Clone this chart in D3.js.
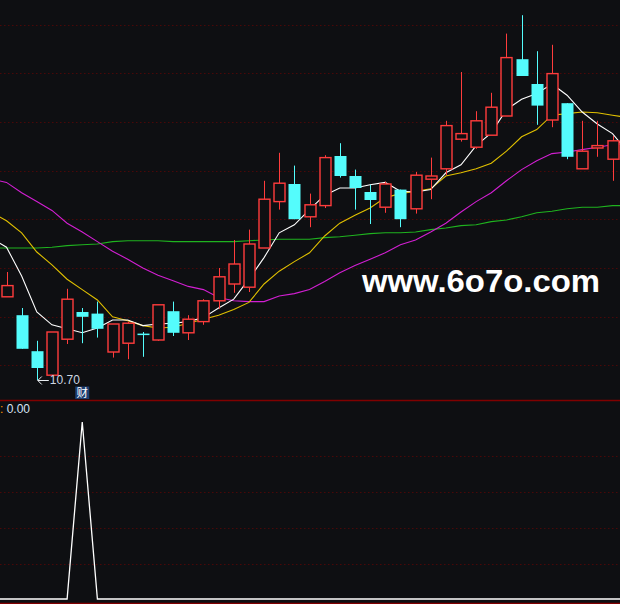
<!DOCTYPE html>
<html><head><meta charset="utf-8">
<script src="https://cdn.jsdelivr.net/npm/d3@7/dist/d3.min.js"></script>
<style>html,body{margin:0;padding:0;background:#0e0f12;overflow:hidden}</style>
</head><body><svg id="c" width="620" height="604"></svg>
<script>
// ---- data (41 visible daily sessions) ----
const openP  = [11.74,11.51,11.06,10.76,11.21,11.55,11.53,11.05,11.16,11.28,11.20,11.56,11.29,11.43,11.69,11.90,11.86,12.35,12.93,13.15,12.74,12.88,13.50,13.25,13.05,12.86,13.08,12.84,13.21,13.34,13.71,13.61,13.76,14.00,14.71,14.40,13.95,14.16,13.34,13.60,13.46];
const highP  = [12.05,11.60,11.19,11.30,11.84,11.60,11.68,11.40,11.43,11.30,11.64,11.68,11.51,11.71,12.10,12.45,12.58,13.19,13.54,13.38,13.03,13.51,13.66,13.33,13.14,13.18,13.08,13.30,13.48,13.94,14.55,14.06,14.29,15.03,15.26,14.81,14.89,14.16,13.94,13.94,13.75];
const lowP   = [11.74,11.09,10.70,10.76,11.15,11.16,11.23,10.98,10.96,10.99,11.19,11.25,11.20,11.39,11.59,11.79,11.80,12.35,12.83,12.71,12.61,12.85,13.23,12.83,12.65,12.79,12.61,12.78,12.96,13.26,13.68,13.59,13.76,14.00,14.50,13.89,13.86,13.46,13.34,13.49,13.19];
const closeP = [11.88,11.09,10.85,11.30,11.71,11.49,11.34,11.40,11.41,11.28,11.64,11.29,11.46,11.69,11.99,12.15,12.40,12.96,13.16,12.71,12.89,13.48,13.25,13.10,12.95,13.15,12.71,13.26,13.25,13.88,13.78,13.94,14.11,14.73,14.50,14.13,14.53,13.49,13.56,13.63,13.69];
// moving averages / indicator: one value before the first visible session, 41 visible, one after (lines run to the pane edges)
const ma5  = [12.47,12.36,12.00,11.55,11.39,11.34,11.29,11.35,11.45,11.45,11.38,11.40,11.41,11.43,11.48,11.60,11.71,11.96,12.23,12.54,12.64,12.83,13.01,13.10,13.10,13.14,13.17,13.06,13.05,13.08,13.29,13.39,13.63,13.79,14.08,14.21,14.28,14.40,14.26,14.05,13.90,13.78,13.55];
const ma10 = [12.80,12.69,12.54,12.30,12.14,11.96,11.83,11.70,11.49,11.44,11.38,11.35,11.36,11.41,11.46,11.51,11.58,11.67,11.90,12.06,12.18,12.29,12.50,12.66,12.76,12.85,12.98,13.03,13.06,13.09,13.25,13.29,13.34,13.41,13.56,13.74,13.83,14.01,14.03,14.05,14.04,14.01,13.98];
const ma20 = [13.21,13.17,13.04,12.93,12.82,12.66,12.55,12.43,12.31,12.21,12.10,12.01,11.94,11.87,11.83,11.73,11.69,11.68,11.68,11.75,11.78,11.83,11.93,12.04,12.13,12.21,12.29,12.39,12.45,12.55,12.66,12.80,12.93,13.04,13.19,13.33,13.44,13.53,13.55,13.58,13.61,13.64,13.66];
const ma60 = [12.35,12.35,12.35,12.35,12.36,12.38,12.39,12.40,12.43,12.44,12.44,12.44,12.43,12.43,12.43,12.43,12.43,12.44,12.45,12.46,12.46,12.46,12.48,12.49,12.51,12.53,12.54,12.54,12.55,12.58,12.60,12.63,12.64,12.68,12.70,12.74,12.79,12.81,12.84,12.86,12.86,12.88,12.88];
const signal = [0,0,0,0,0,0,1,0,0,0,0,0,0,0,0,0,0,0,0,0,0,0,0,0,0,0,0,0,0,0,0,0,0,0,0,0,0,0,0,0,0,0,0];
const signalMark = "财";
const watermark = "www.6o7o.com";

// ---- layout ----
const W = 620, H = 604;
const svg = d3.select("#c");
const BG = "#0e0f12", RED = "#ff3c3c", CYAN = "#54fcfc", GRID = "#4a0808", SEP = "#800000";
svg.append("rect").attr("width", W).attr("height", H).attr("fill", BG);

const n = closeP.length;
const x = d3.scaleLinear().domain([0, n - 1]).range([6.5, 612.5]);
const y = d3.scaleLinear().domain([10.70, 15.45]).range([380, 0]);
const y2 = d3.scaleLinear().domain([0, 1]).range([599, 422]);

// grid lines (pane divisions)
const mainGrid = d3.range(8).map(k => 24.5 + k * 48.7);
const subGrid = [456, 492, 528, 564];
svg.append("g").selectAll("line").data(mainGrid.concat(subGrid)).join("line")
  .attr("x1", 0).attr("x2", W).attr("y1", d => Math.round(d) + 0.5).attr("y2", d => Math.round(d) + 0.5)
  .attr("stroke", GRID).attr("stroke-width", 1).attr("stroke-dasharray", "1.5,2.5");

// separators
svg.append("line").attr("x1", 0).attr("x2", W).attr("y1", 400.5).attr("y2", 400.5).attr("stroke", SEP).attr("stroke-width", 1.5);
svg.append("line").attr("x1", 0).attr("x2", W).attr("y1", 603.5).attr("y2", 603.5).attr("stroke", SEP).attr("stroke-width", 1.5);

// clip paths
const defs = svg.append("defs");
defs.append("clipPath").attr("id", "mainClip").append("rect").attr("x", 0).attr("y", 0).attr("width", W).attr("height", 400);
defs.append("clipPath").attr("id", "subClip").append("rect").attr("x", 0).attr("y", 401).attr("width", W).attr("height", 202);

// moving averages (index 0 of each array is the session before the first visible one)
const maG = svg.append("g").attr("clip-path", "url(#mainClip)");
const lineGen = (arr, ys) => d3.line().x((d, i) => x(i - 1)).y(d => ys(d))(arr);
[[ma60, "#1fb31f"], [ma20, "#d21fd2"], [ma10, "#e0c000"], [ma5, "#ffffff"]].forEach(([arr, col]) => {
  maG.append("path").attr("d", lineGen(arr, y)).attr("fill", "none").attr("stroke", col).attr("stroke-width", 1.1);
});

// candles
const candles = d3.range(n).map(i => {
  const o = openP[i], c = closeP[i];
  let up = c > o;
  if (c === o) up = i > 0 ? c >= closeP[i - 1] : true;
  return {i, o, c, h: highP[i], l: lowP[i], up};
});
const half = 5.5;
const g = svg.append("g");
candles.forEach(d => {
  const cx = Math.round(x(d.i)) + 0.5;
  const top = y(Math.max(d.o, d.c)), bot = y(Math.min(d.o, d.c));
  const col = d.up ? RED : CYAN;
  if (d.up) {
    g.append("line").attr("x1", cx).attr("x2", cx).attr("y1", y(d.h)).attr("y2", top).attr("stroke", col);
    g.append("line").attr("x1", cx).attr("x2", cx).attr("y1", bot).attr("y2", y(d.l)).attr("stroke", col);
    g.append("rect").attr("x", cx - half).attr("y", top).attr("width", half * 2).attr("height", Math.max(bot - top, 1))
      .attr("fill", BG).attr("stroke", col).attr("stroke-width", 1.4);
  } else {
    g.append("line").attr("x1", cx).attr("x2", cx).attr("y1", y(d.h)).attr("y2", y(d.l)).attr("stroke", col);
    g.append("rect").attr("x", cx - half - 0.5).attr("y", top).attr("width", half * 2 + 1).attr("height", Math.max(bot - top, 1.5))
      .attr("fill", col);
  }
});

// lowest price marker
const lowIdx = d3.minIndex(lowP);
const lx = x(lowIdx), ly = y(lowP[lowIdx]);
svg.append("path").attr("d", `M${lx + 12},${ly + 0.5}H${lx + 1}M${lx + 5},${ly - 3.5}L${lx + 1},${ly + 0.5}L${lx + 5},${ly + 4.5}`)
  .attr("stroke", "#e8ecf0").attr("fill", "none").attr("stroke-width", 1);
svg.append("text").attr("x", lx + 13).attr("y", ly + 4).text(lowP[lowIdx].toFixed(2))
  .attr("fill", "#cdd6e2").attr("font-family", "Liberation Sans, Arial, sans-serif").attr("font-size", 12);

// signal marker box (under the session where the signal fires)
const sigIdx = signal.indexOf(1) - 1;
const sx = x(sigIdx);
svg.append("rect").attr("x", sx - 7).attr("y", 386.5).attr("width", 14).attr("height", 12.5).attr("fill", "#1d3f72");
svg.append("text").attr("x", sx).attr("y", 397).attr("text-anchor", "middle").text(signalMark)
  .attr("fill", "#ffffff").attr("font-family", "Noto Sans CJK SC").attr("font-size", 11.5);

// watermark
svg.append("text").attr("x", 362).attr("y", 292).text(watermark)
  .attr("fill", "#ffffff").attr("font-family", "Liberation Sans, Arial, sans-serif").attr("font-weight", "bold")
  .attr("font-size", 32).attr("textLength", 238).attr("lengthAdjust", "spacingAndGlyphs");

// sub-pane indicator
svg.append("g").attr("clip-path", "url(#subClip)").append("path").attr("d", lineGen(signal, y2))
  .attr("fill", "none").attr("stroke", "#ffffff").attr("stroke-width", 1.3);
const lbl = svg.append("text").attr("x", 0).attr("y", 413).attr("font-family", "Liberation Sans, Arial, sans-serif").attr("font-size", 12);
lbl.append("tspan").text(":").attr("fill", "#ff9900");
lbl.append("tspan").text(" " + signal[n].toFixed(2)).attr("fill", "#d8e4f4");
</script></body></html>
